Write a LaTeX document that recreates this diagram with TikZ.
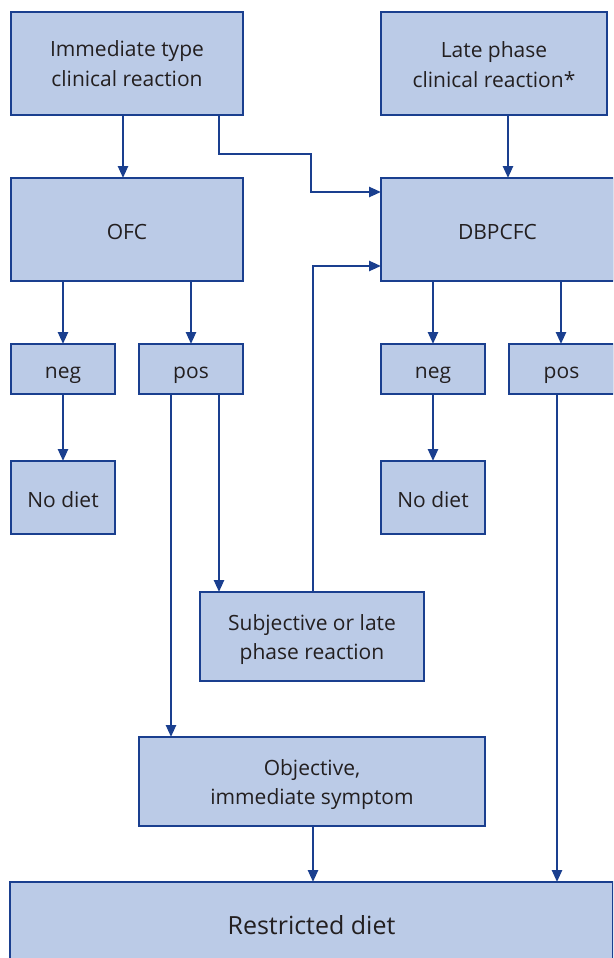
\documentclass[tikz,border=0pt]{standalone}
\usepackage{fontspec}
\setmainfont{Open Sans}
\usetikzlibrary{arrows.meta}
\definecolor{boxfill}{HTML}{BBCBE7}
\definecolor{boxline}{HTML}{1A3F8F}
\definecolor{txt}{HTML}{231F20}
\tikzset{
  box/.style={draw=boxline, fill=boxfill, line width=2.8pt, inner sep=0pt, outer sep=0pt,
    text=txt, align=center, font=\fontsize{21}{29.5}\selectfont},
  one/.style={text height=22pt, text depth=3pt},
  conn/.style={draw=boxline, line width=2.5pt, -{Triangle[length=12pt,width=10pt]}},
}
% box from corners: \bx[opts]{name}{x1}{y1}{x2}{y2}{text}
\newcommand{\bx}[7][]{%
  \pgfmathsetmacro{\bw}{#5-#3}\pgfmathsetmacro{\bh}{#6-#4}%
  \pgfmathsetmacro{\bcx}{(#3+#5)/2}\pgfmathsetmacro{\bcy}{(#4+#6)/2}%
  \node[box, minimum width=\bw pt, minimum height=\bh pt, #1] (#2) at (\bcx,\bcy) {#7};}
\begin{document}
\begin{tikzpicture}[x=1pt,y=-1pt]
\useasboundingbox (0,0) rectangle (613,958);
\clip (0,0) rectangle (613,958);
\bx{imm}{11}{12}{243}{115}{Immediate type\\clinical reaction}
\bx{late}{381}{12}{607}{115}{\rule{0pt}{18pt}Late phase\\clinical reaction*}
\bx[one]{ofc}{11}{178}{243}{281}{OFC}
\bx[one]{dbp}{381}{178}{614}{281}{DBPCFC}
\bx[one]{negl}{11}{344}{115}{394}{neg}
\bx[one]{posl}{139}{344}{243}{394}{pos}
\bx[one]{negr}{381}{344}{485}{394}{neg}
\bx[one]{posr}{509}{344}{614}{394}{pos}
\bx[one]{ndl}{11}{461}{115}{534}{No diet}
\bx[one]{ndr}{381}{461}{485}{534}{No diet}
\bx{subj}{200}{592}{424}{681}{\rule{0pt}{22pt}Subjective or late\\phase reaction}
\bx{obj}{139}{737}{485}{826}{\rule{0pt}{22pt}Objective,\\immediate symptom}
\node[box, minimum width=603pt, minimum height=88pt, font=\fontsize{25}{30}\selectfont,
  text height=20pt, text depth=4pt] (rest) at (311.5,926) {Restricted diet};
% connectors
\draw[conn] (imm.south -| 123,0) -- (ofc.north -| 123,0);
\draw[conn] (imm.south -| 219,0) |- (311,154) |- (dbp.west |- 0,192);
\draw[conn] (late.south -| 508,0) -- (dbp.north -| 508,0);
\draw[conn] (ofc.south -| 63,0) -- (negl.north -| 63,0);
\draw[conn] (ofc.south -| 191,0) -- (posl.north -| 191,0);
\draw[conn] (dbp.south -| 433,0) -- (negr.north -| 433,0);
\draw[conn] (dbp.south -| 561,0) -- (posr.north -| 561,0);
\draw[conn] (negl.south -| 63,0) -- (ndl.north -| 63,0);
\draw[conn] (negr.south -| 433,0) -- (ndr.north -| 433,0);
\draw[conn] (posl.south -| 171,0) -- (obj.north -| 171,0);
\draw[conn] (posl.south -| 219,0) -- (subj.north -| 219,0);
\draw[conn] (subj.north -| 313,0) |- (dbp.west |- 0,266);
\draw[conn] (obj.south -| 313,0) -- (rest.north -| 313,0);
\draw[conn] (posr.south -| 557,0) -- (rest.north -| 557,0);
\end{tikzpicture}
\end{document}
